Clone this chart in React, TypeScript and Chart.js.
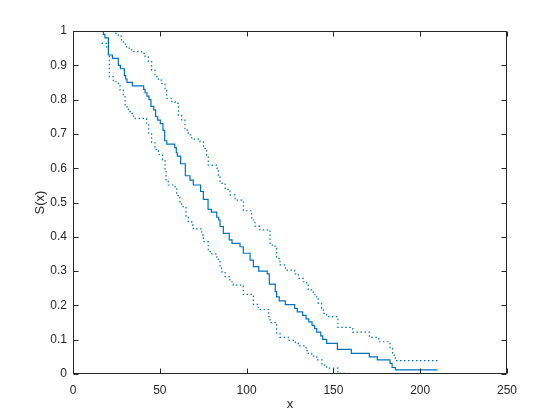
import React, { useEffect, useRef } from "react";
import { Chart, registerables } from "chart.js";

Chart.register(...registerables);

// Kaplan-Meier style survivor function (value after each drop)
const survX = [16.5, 17.5, 18.4, 20.4, 22.7, 26.1, 27.3, 29.6, 30.3, 31.1, 34.2, 40.7, 41.5, 42.6, 43.8, 44.9, 46.5, 47.6, 48.8, 50.3, 51.8, 52.8, 54.0, 58.6, 59.5, 60.1, 62.0, 64.7, 67.4, 69.3, 73.5, 75.1, 77.8, 79.7, 82.8, 83.9, 84.7, 86.6, 90.0, 91.6, 96.2, 98.1, 102.0, 103.9, 107.0, 111.9, 113.1, 116.5, 117.3, 118.8, 122.3, 127.7, 129.2, 132.3, 134.2, 135.8, 137.7, 139.2, 140.4, 142.7, 143.8, 146.1, 152.3, 160.3, 170.7, 175.3, 182.6, 183.8, 185.7, 210];
const survY = [1, 0.99, 0.98, 0.93, 0.92, 0.90, 0.89, 0.87, 0.86, 0.85, 0.84, 0.83, 0.82, 0.81, 0.80, 0.78, 0.77, 0.75, 0.74, 0.73, 0.71, 0.68, 0.67, 0.66, 0.645, 0.635, 0.613, 0.578, 0.565, 0.551, 0.532, 0.509, 0.48, 0.472, 0.457, 0.449, 0.43, 0.41, 0.391, 0.381, 0.371, 0.352, 0.332, 0.313, 0.30, 0.292, 0.262, 0.24, 0.225, 0.213, 0.202, 0.191, 0.181, 0.171, 0.161, 0.152, 0.142, 0.132, 0.122, 0.111, 0.101, 0.089, 0.072, 0.060, 0.050, 0.041, 0.031, 0.019, 0.012, 0.012];

// Upper confidence bound
const upX = [16.5, 24.2, 26.1, 28.0, 29.0, 30.9, 33.8, 39.5, 41.5, 43.4, 45.3, 47.2, 49.2, 51.1, 53.0, 54.0, 56.9, 58.8, 60.7, 62.6, 64.5, 66.4, 68.4, 73.2, 75.1, 77.0, 77.9, 82.8, 83.7, 84.7, 87.6, 90.4, 93.3, 97.2, 98.1, 102.9, 104.8, 107.7, 113.5, 116.4, 117.3, 119.2, 122.4, 127.7, 129.8, 132.7, 134.6, 135.5, 138.4, 139.4, 141.3, 143.2, 144.2, 146.1, 152.6, 161.1, 170.7, 176.1, 182.6, 184.1, 185.7, 210];
const upY = [1, 0.993, 0.985, 0.972, 0.962, 0.950, 0.940, 0.935, 0.925, 0.911, 0.886, 0.867, 0.857, 0.847, 0.828, 0.804, 0.794, 0.789, 0.755, 0.741, 0.711, 0.697, 0.685, 0.677, 0.658, 0.638, 0.609, 0.600, 0.580, 0.556, 0.538, 0.522, 0.507, 0.502, 0.476, 0.449, 0.431, 0.420, 0.376, 0.366, 0.337, 0.318, 0.303, 0.292, 0.279, 0.269, 0.259, 0.245, 0.235, 0.225, 0.206, 0.191, 0.177, 0.167, 0.136, 0.122, 0.107, 0.094, 0.075, 0.055, 0.039, 0.037];

// Lower confidence bound
const loX = [16.5, 19.4, 20.4, 20.9, 23.2, 26.1, 27.1, 29.0, 30.0, 31.9, 33.8, 34.8, 42.4, 43.6, 45.3, 47.2, 49.2, 51.5, 53.0, 53.6, 54.9, 58.8, 59.7, 61.6, 62.6, 65.1, 66.4, 68.4, 69.3, 74.1, 75.1, 77.9, 79.9, 82.8, 83.7, 84.7, 85.6, 87.6, 90.4, 92.3, 98.1, 103.9, 106.7, 112.7, 113.5, 117.3, 119.2, 124.0, 128.1, 129.8, 134.2, 135.5, 137.5, 140.4, 143.4, 146.1, 152.6, 160];
const loY = [0.964, 0.950, 0.935, 0.867, 0.852, 0.847, 0.828, 0.809, 0.779, 0.765, 0.760, 0.745, 0.731, 0.702, 0.675, 0.655, 0.640, 0.624, 0.598, 0.566, 0.551, 0.54, 0.52, 0.502, 0.488, 0.46, 0.444, 0.434, 0.423, 0.405, 0.386, 0.357, 0.35, 0.337, 0.328, 0.313, 0.298, 0.284, 0.269, 0.259, 0.232, 0.203, 0.188, 0.167, 0.15, 0.119, 0.107, 0.098, 0.089, 0.082, 0.068, 0.06, 0.052, 0.041, 0.026, 0.017, 0.002, 0.002];

const xTicks = [0, 50, 100, 150, 200, 250];
const yTicks = [0, 0.1, 0.2, 0.3, 0.4, 0.5, 0.6, 0.7, 0.8, 0.9, 1];

const BLUE = "#0072BD";
const AXIS = "#262626";
const FONT = "'Liberation Sans', Arial, sans-serif";

const toPts = (xs: number[], ys: number[]) => xs.map((x, i) => ({ x, y: ys[i] }));

const boxPlugin = {
  id: "matlabBox",
  afterDraw(chart: any) {
    const { ctx, chartArea: a, scales } = chart;
    const L = Math.round(a.left) + 0.5;
    const R = Math.round(a.right) - 0.5;
    const T = Math.round(a.top) + 0.5;
    const B = Math.round(a.bottom) - 0.5;
    ctx.save();
    ctx.strokeStyle = AXIS;
    ctx.lineWidth = 1;
    ctx.beginPath();
    ctx.rect(L, T, R - L, B - T);
    const tl = 5;
    xTicks.forEach((v) => {
      const px = Math.round(scales.x.getPixelForValue(v)) + 0.5;
      ctx.moveTo(px, B);
      ctx.lineTo(px, B - tl);
      ctx.moveTo(px, T);
      ctx.lineTo(px, T + tl);
    });
    yTicks.forEach((v) => {
      const py = Math.round(scales.y.getPixelForValue(v)) + 0.5;
      ctx.moveTo(L, py);
      ctx.lineTo(L + tl, py);
      ctx.moveTo(R, py);
      ctx.lineTo(R - tl, py);
    });
    ctx.stroke();
    ctx.restore();
  },
};

export default function App() {
  const ref = useRef<HTMLCanvasElement | null>(null);
  useEffect(() => {
    document.body.style.margin = "0";
    const canvas = ref.current!;
    const chart = new Chart(canvas, {
      type: "line",
      data: {
        datasets: [
          {
            data: toPts(survX, survY),
            borderColor: BLUE,
            borderWidth: 1.2,
            stepped: "before",
            pointRadius: 0,
            fill: false,
          },
          {
            data: toPts(upX, upY),
            borderColor: BLUE,
            borderWidth: 1.2,
            borderDash: [1.5, 2.5],
            stepped: "before",
            pointRadius: 0,
            fill: false,
          },
          {
            data: toPts(loX, loY),
            borderColor: BLUE,
            borderWidth: 1.2,
            borderDash: [1.5, 2.5],
            stepped: "before",
            pointRadius: 0,
            fill: false,
          },
        ],
      },
      options: {
        animation: false,
        responsive: false,
        layout: { padding: { top: 31, right: 53, left: 0, bottom: 0 } },
        plugins: { legend: { display: false }, tooltip: { enabled: false } },
        scales: {
          x: {
            type: "linear",
            min: 0,
            max: 250,
            afterFit: (s: any) => { s.height = 46; },
            afterBuildTicks: (s: any) => { s.ticks = xTicks.map((v) => ({ value: v })); },
            grid: { display: false, drawTicks: false },
            border: { display: false },
            ticks: {
              padding: 9,
              color: AXIS,
              font: { family: FONT, size: 12 },
              maxRotation: 0,
              callback: (v: any) => String(v),
            },
            title: {
              display: true,
              text: "x",
              color: AXIS,
              font: { family: FONT, size: 13 },
              padding: { top: 0, bottom: 8 },
            },
          },
          y: {
            type: "linear",
            min: 0,
            max: 1,
            afterFit: (s: any) => { s.width = 73; },
            afterBuildTicks: (s: any) => { s.ticks = yTicks.map((v) => ({ value: v })); },
            grid: { display: false, drawTicks: false },
            border: { display: false },
            ticks: {
              padding: 6,
              color: AXIS,
              font: { family: FONT, size: 12 },
              callback: (v: any) => String(Math.round(Number(v) * 10) / 10),
            },
            title: {
              display: true,
              text: "S(x)",
              color: AXIS,
              font: { family: FONT, size: 13 },
              padding: { top: 33, bottom: 0 },
            },
          },
        },
      },
      plugins: [boxPlugin],
    });
    return () => chart.destroy();
  }, []);
  return (
    <div style={{ width: 560, height: 420, background: "#fff" }}>
      <canvas ref={ref} width={560} height={420} style={{ display: "block" }} />
    </div>
  );
}
